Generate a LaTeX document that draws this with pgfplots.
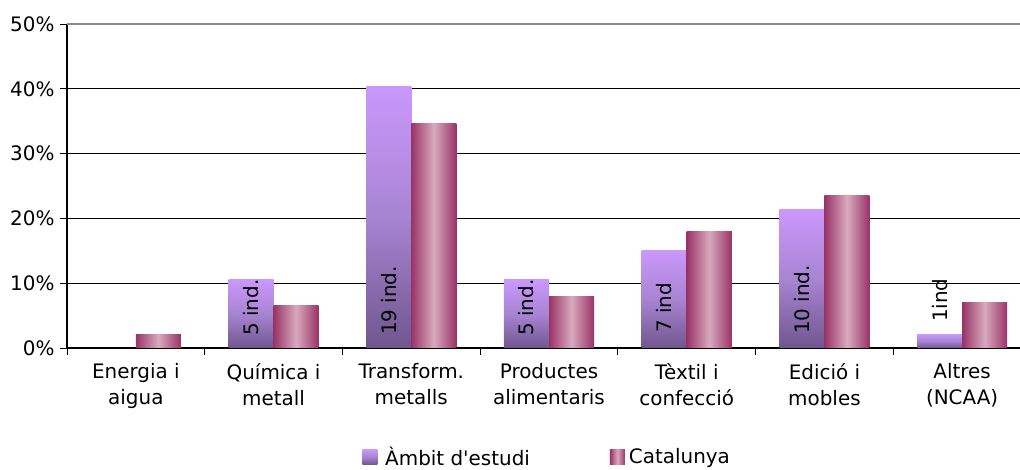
\documentclass[border=0pt]{standalone}
\usepackage{pgfplots}
\pgfplotsset{compat=1.18}
\usepackage{fontspec}
\setmainfont{DejaVu Sans}[Ligatures=TeXOff]
\definecolor{ptop}{HTML}{CA98FC}
\definecolor{pmid}{HTML}{A884D2}
\definecolor{pbot}{HTML}{70568E}
\definecolor{redge}{HTML}{993366}
\definecolor{rmid}{HTML}{D8AABE}
\pgfplotsset{
  pbar/.style={ybar, bar width=0.327, bar shift=-0.1635, draw=none,
    top color=ptop, bottom color=pbot, middle color=pmid,
    legend image code/.code={\path (0bp,0bp) -- (21bp,0bp);\path[top color=ptop,bottom color=pbot,middle color=pmid] (0bp,-7.5bp) rectangle (15bp,7.5bp);}},
  rbar/.style={ybar, bar width=0.327, bar shift=0.1635, draw=none,
    left color=redge, right color=redge, middle color=rmid,
    legend image code/.code={\path (0bp,0bp) -- (17bp,0bp);\path[left color=redge,right color=redge,middle color=rmid] (0bp,-7.5bp) rectangle (15bp,7.5bp);}},
}
\begin{document}
\begin{tikzpicture}
\path[use as bounding box] (0,0) rectangle (1020bp,470bp);
\begin{axis}[
 at={(67bp,122bp)}, anchor=south west, scale only axis,
 width=953bp, height=324bp,
 xmin=-0.5, xmax=6.42, ymin=0, ymax=50,
 axis x line*=bottom, axis y line*=left,
 axis line style={line width=1.3bp, black},
 xtick={0,...,6},
 xticklabels={{Energia i\\aigua},{Química i\\metall},{Transform.\\metalls},{Productes\\alimentaris},{Tèxtil i\\confecció},{Edició i\\mobles},{Altres\\(NCAA)}},
 xticklabel style={align=center, font=\fontsize{20}{26}\selectfont, yshift=-5bp},
 minor xtick={-0.5,0.5,...,5.5},
 major x tick style={draw=none},
 tick align=outside, major tick length=7bp, minor tick length=7bp,
 tick style={black, line width=1bp},
 ytick={0,10,...,40},
 yticklabels={0\%,10\%,20\%,30\%,40\%},
 extra y ticks={50}, extra y tick labels={50\%},
 extra y tick style={grid style={color=gray!90, line width=2.2bp}},
 ymajorgrids, grid style={black, line width=0.8bp},
 yticklabel style={font=\fontsize{20}{24}\selectfont, xshift=-2bp},
 legend style={at={(0.3096,-0.336)}, anchor=west, draw=none, fill=none, inner sep=0pt,
   font=\fontsize{20}{24}\selectfont, legend columns=2,
   /tikz/every even column/.append style={column sep=78bp}},
]
\addplot[pbar] coordinates {(0,0)};
\addlegendentry{Àmbit d'estudi}
\addplot[rbar] coordinates {(0,2.1)};
\addlegendentry{Catalunya}
% Àmbit d'estudi
\addplot[pbar, forget plot] coordinates {(1,10.6)};
\addplot[pbar, forget plot] coordinates {(2,40.4)};
\addplot[pbar, forget plot] coordinates {(3,10.5)};
\addplot[pbar, forget plot] coordinates {(4,15.0)};
\addplot[pbar, forget plot] coordinates {(5,21.3)};
\addplot[pbar, forget plot] coordinates {(6,2.1)};
% Catalunya
\addplot[rbar, forget plot] coordinates {(1,6.6)};
\addplot[rbar, forget plot] coordinates {(2,34.7)};
\addplot[rbar, forget plot] coordinates {(3,8.0)};
\addplot[rbar, forget plot] coordinates {(4,18.0)};
\addplot[rbar, forget plot] coordinates {(5,23.6)};
\addplot[rbar, forget plot] coordinates {(6,7.0)};
\addplot[only marks, mark=none, forget plot, nodes near coords, point meta=explicit symbolic,
  nodes near coords style={rotate=90, anchor=west, inner sep=0pt, black, font=\fontsize{20}{24}\selectfont}]
  coordinates {(0.8365,1.85) [5 ind.] (1.8365,2.0) [19 ind.] (2.8365,1.85) [5 ind.] (3.8365,2.35) [7 ind] (4.8365,2.15) [10 ind.] (5.8365,4.0) [1ind]};
\end{axis}
\end{tikzpicture}
\end{document}
